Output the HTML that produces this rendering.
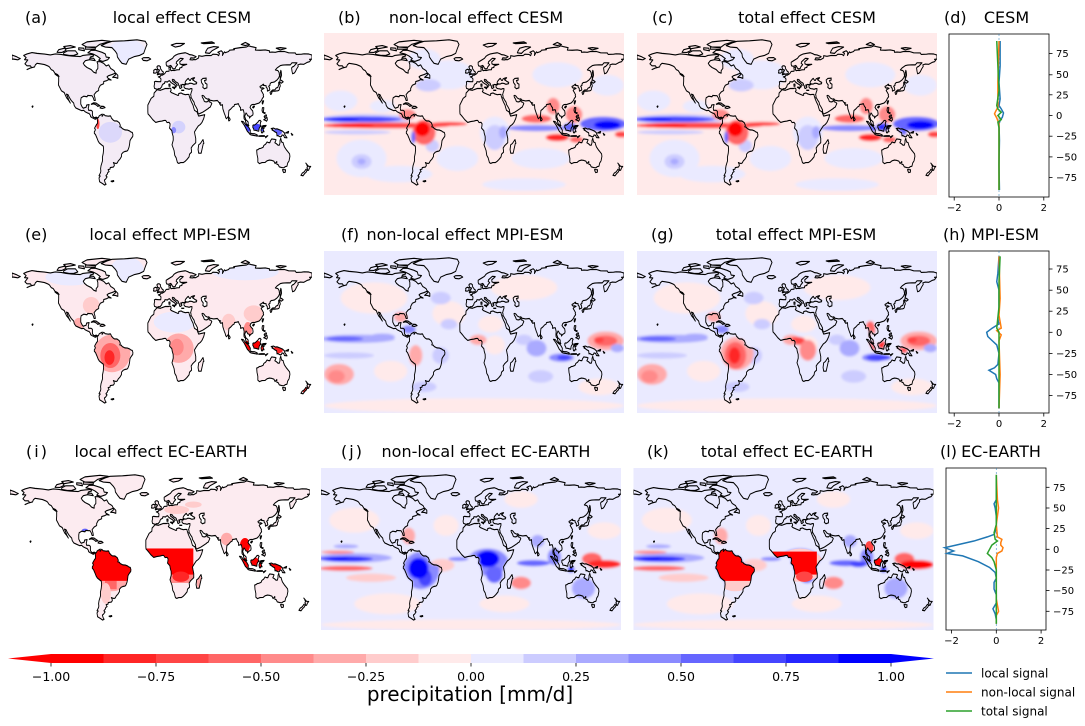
<!DOCTYPE html>
<html><head><meta charset="utf-8"><style>
html,body{margin:0;padding:0;background:#fff;}
svg{display:block;font-family:"DejaVu Sans","Liberation Sans",sans-serif;}
</style></head><body>
<svg width="1085" height="726" viewBox="0 0 1085 726" xmlns="http://www.w3.org/2000/svg">
<defs>
<filter id="bl" filterUnits="userSpaceOnUse" x="-200" y="-100" width="400" height="220"><feGaussianBlur stdDeviation="1.6 1.2"/></filter>
<path id="land" d="M-166,68.5 -163,66.5 -165,64.5 -161,64.2 -164.5,60.5 -162,58.6 -158,58.6 -156.5,57 -162,55 -158,56.5 -153,57.5 -152,59.5 -150,61 -146,60.5 -141,59.8 -137,58.5 -135,57.5 -133,55 -130.5,54 -128.5,51.5 -125,50 -124,48.4 -124,44 -124.3,40.3 -122.5,37.5 -120.6,34.6 -117.3,33 -116,30.5 -114.5,28 -112,25.5 -110,23 -112,26 -113.5,29.5 -114.7,31.5 -112.8,31 -111,28 -109,25.5 -106,23 -105.3,20.5 -103.5,18.3 -100,17 -96.5,15.7 -94,16 -92,14.5 -89,13.3 -87.5,13 -86,11.3 -85.7,10 -84,9 -82,8.3 -80,7.3 -79.6,8.5 -78,8.3 -77.3,8.5 -77.9,7.2 -77.5,6.7 -77.4,4 -77.5,3.3 -78.6,2.6 -79,1.7 -80,0.4 -80.9,-1.1 -80,-2.2 -80.3,-3.4 -81.2,-4.5 -81.2,-6 -79.8,-7.2 -78.1,-10.4 -76.6,-13.5 -75.2,-15.3 -71.4,-17.8 -70.4,-18.3 -70.1,-21.4 -70.5,-25 -71.5,-28.9 -71.4,-32.4 -73.2,-37.1 -73.7,-39.9 -73.4,-42.1 -73.7,-43.4 -75.6,-46.6 -74.1,-46.9 -75.6,-48.7 -74.9,-52.3 -71.5,-54 -69,-55.5 -67.1,-54.8 -68.3,-53.1 -68.6,-52.3 -69.1,-50.7 -67.8,-49.9 -65.9,-47.7 -67.3,-46.6 -65.6,-45 -65.1,-43.5 -63.5,-42.6 -64.7,-40.8 -62.3,-40.2 -62.1,-38.8 -58.4,-38.3 -57.2,-36.9 -57.5,-35.3 -58.4,-34 -57.1,-34.4 -55,-34.9 -53.8,-34.4 -52.3,-32.2 -50.7,-31 -48.6,-28.2 -48.5,-25.9 -46.5,-24.1 -44.6,-23.4 -42,-23 -40.8,-21.9 -39.6,-19.3 -39,-17 -38.4,-13 -37,-11 -35.1,-9 -34.9,-7.3 -35.6,-5.1 -37.2,-4.8 -39,-3.7 -41.5,-2.9 -44.6,-2.7 -48,-1.3 -48.6,-0.2 -50.7,0.2 -50,1.7 -51.3,4.2 -52,4.6 -54,5.8 -57.1,5.9 -58.7,6.8 -60.7,8.6 -61.2,9.8 -61.9,10.7 -64.3,10.4 -66.2,10.6 -68.2,10.9 -69.9,12.2 -71.4,11 -71.9,10.2 -71.8,12.4 -74.2,11.3 -75.5,10.6 -76.3,9 -77,8.7 -79,9.5 -81.5,8.9 -83.5,10.8 -83.5,15 -85,16 -88,16 -88.5,18 -87.5,21.5 -90.5,21 -91,19 -94.5,18 -96,19.5 -97.5,22 -97.5,26 -97,28 -94,29.5 -90,29 -89,30.3 -85.5,30 -84,30 -82.5,28 -81.5,25.5 -80,25.5 -80.5,28 -81.5,31 -79,33.5 -76,35 -76,37 -74,40 -70,41.5 -70,43.5 -66,44.5 -64,45.5 -61,45 -64.5,46.5 -66,48 -64.5,49 -60,50.2 -56,51.5 -57.5,54 -61.5,56 -64,59.5 -67,58.5 -70,61 -74,62.5 -78,62.5 -77,60 -77,56 -79,54 -79,51.5 -82,52.5 -85,55 -90,57 -93,59 -94.5,61 -92,63.5 -87,64.5 -86,67 -82,68 -83,69.5 -90,69 -95,68.5 -98,67.5 -108,68 -115,68.5 -121,69.5 -128,70 -134,69 -141,69.8 -150,70.5 -156,71.3 -162,70 Z
M-59.3,47.6 -56,49.8 -55.5,51.5 -53,49.5 -53,46.6 -56,47.5 Z
M-73,78 -66,80.5 -60,82 -45,82.5 -30,83.5 -20,82 -18,79 -20,75 -22,70.5 -27,68.5 -33,67.5 -40,65 -43,60 -48,61 -51,64 -53.5,67 -54,70 -56,72.5 -60,76 -68,76.5 Z
M-80,73.5 -72,71.5 -68,70 -67,67 -63,66.5 -65,64.5 -71,62.8 -76,64 -74,65.5 -78,68 -83,70 -89,71 -85,73.5 Z
M-118,71 -113,73 -104,73 -101,70 -106,68.5 -112,68.6 -118,69.5 Z
M-90,76.5 -80,76 -75,79 -62,82 -72,83 -90,81.5 -96,79 Z
M-126,71.5 -124,74 -117,75.5 -115,73.5 -120,71.4 Z
M-92,74.5 -80,74.5 -80,76.5 -92,76.5 Z
M-115,75 -104,76.5 -110,78 -118,77 Z
M-100,74 -93,73 -94,75.5 -100,75.8 Z
M-87,64.5 -80,63.5 -82,65.8 -86,66 Z
M-128.4,50.8 -125.5,50.3 -123.5,48.5 -125.5,48.9 Z
M-156,19.8 -155,20.2 -154.8,19.5 -155.6,18.9 Z
M-84.9,21.9 -82,23.2 -79,22.9 -76,21.2 -74.2,20.3 -77.5,19.9 -78,20.7 -80.5,21.8 -82.5,22.2 -84.5,21.7 Z
M-74.4,18.3 -72.7,19.9 -69.9,19.7 -68.3,18.6 -71.7,17.8 Z
M-61.2,-51.8 -58,-51.2 -57.8,-51.9 -59.8,-52.4 Z
M-24,65.5 -22,66.4 -16,66.5 -13.5,65 -18,63.4 -22.5,63.8 Z
M11,78.5 17,80 27,80 22,77.5 16,76.5 Z
M52,71 57,70.5 60,73 68,76.5 62,77 55,75.5 53,73 Z
M95,79 100,81 105,79 100,78 Z
M47,80.5 60,81.5 63,80.3 50,79.8 Z
M137,75.5 142,76 149,75.3 142,73.8 Z
M-180,68.9 -175,67.5 -172,66.2 -170,65.6 -173,64.3 -178,65 -180,65 Z
M-5.9,35.8 -9.5,32.5 -9.8,29.5 -13,27.5 -17,21 -17,14.7 -16.8,12.5 -15,11 -13,9 -11,7 -7.5,4.4 -4,5.2 0,5.7 2.5,6.3 4.5,6.3 6,4.3 8.5,4.5 9.7,3 9.5,1 9,-1 11.8,-3.5 12.3,-6 13.4,-9 13.5,-12.5 12,-17 14.5,-22.5 15.3,-27 17,-29.5 18.5,-34 20,-34.8 22.5,-34 25.5,-34 27.5,-33 30,-31 32.5,-28.5 33,-26 35.5,-24 35.3,-22 35,-20 36.8,-17.8 40.5,-15 40.5,-11 39.5,-7 39,-4.7 41,-2 43.5,1 46,2.5 48,4.5 50,8 51.3,11.8 48,11.2 44,10.5 43.3,11.8 42,14.5 39,16 38,18.5 37.2,21 35.6,23.5 34,26.5 32.6,29.9 32.3,31.2 30,31.2 28,31 25,31.7 23,32.6 20,32 20,30.5 19,30.3 15.5,31.5 11.3,33 10,34 11,35.2 10.5,36.8 9.5,37.3 8,36.9 4,36.9 0,35.8 -2,35.1 Z
M44,-25 47,-25 49.5,-16 50.3,-15.5 49.2,-12 46,-15.8 44,-17 43.3,-21.5 Z
M-5.6,36 -9,37 -9.5,39 -8.8,42 -9.2,43.2 -8,43.7 -4,43.4 -1.5,43.4 -1.2,46 -2.5,47.3 -4.5,48 -1.8,48.7 -1.5,49.6 0.2,49.6 1.5,50.2 3.5,51.3 5,53.2 8.5,53.5 8.6,55.5 8.1,56.8 10.5,57.6 10.4,56.2 10,54.8 11,54 13,54.3 14.5,54 18,54.8 21,54.9 21.2,56.5 24,57.2 24,58.5 28,59.5 29.8,60 23,59.9 21.5,60.5 21.3,62.5 25,65 25.5,65.5 22,65.8 17.5,62.5 17,61 18.8,59.8 16.5,57.5 16,56.2 14.3,55.5 12.7,56.2 11.5,58 10.5,59 8,58.1 5.6,58.5 5,60 5,62 8,63.5 12.5,65.7 14.5,67.8 16.3,68.8 19,69.8 23.5,70.6 28,71.1 31,70.2 33,69.3 36,69 41,67.4 38.5,66 34.5,66.2 33.5,64.5 36.5,64.2 38,64.6 40.5,64.5 44,66.2 44,68.3 48,67.7 53,68.5 59,68.4 61,69.7 66,69.5 68,68.3 69,70.5 67,71.5 71,73 73,71.5 72.5,68.5 75,72 76,71.2 80,72.3 81,73.6 87,74 86,75 94,76 101,76.5 104,77.7 107,77 113,76 112,73.7 118,73.5 124,73.8 129,73 129,71.5 132,71.8 136,71.5 140,72.4 147,72.3 152,71 160,70.9 161,69.5 167.5,69.7 170.5,70.1 176,69.9 180,68.9 180,65 177,64.8 178.5,64 177,62.5 174,61.8 170,60 166,60.3 163,59.5 163.5,58 161.5,55.5 160,53 158.5,51.5 156.7,51 156,53.5 155.5,56.5 156.5,57.5 158,58 162,61.5 160,61.5 156,61.5 154,59.5 150,59.6 145,59.3 142,58.8 138,56.5 136,54.7 139,54.1 140.5,52.2 141,49 140,47 138,45 135,43.2 133,42.8 131,42.6 129.5,41 129.7,40 128,39 129,37.5 129.4,35.5 126.5,34.4 126.3,37 125,38 125,39.5 121.5,40 122,40.8 121.5,41 119,39.3 118,39.2 117.5,38.5 119,37.2 120.7,37.6 122.5,37 120,36 119,35 120.5,33 121.8,31 121.5,30 122,29 120.5,27.5 119.5,25.8 118.5,24.5 116.5,23 113.5,22.2 111,21.5 109.7,21.6 108,21.5 106.5,20.5 106,19.5 105.6,18.8 107,17 108.8,15.5 109.3,13 109,11.5 107,10.5 106.2,10 105,8.6 104.8,10.3 103,10.7 102,12.2 100.9,13.5 100,12 99.2,10 100,8.5 100.5,7 102,6 103.4,4.8 103.5,2.5 104.2,1.4 103.5,1.3 101.3,2.8 100.3,5 100.2,6.5 98.5,8 98.3,10 98.6,13 97.6,16.5 96,16.5 94.3,16 94.3,18.4 93,19.8 92.3,21 91.5,22.5 90.5,22 88.5,21.8 87,21.5 86.5,20 84.8,19.3 82.2,17 80.3,15.8 80,13.5 79.8,10.3 78.3,8.9 77.5,8 76.5,8.9 75.7,11.3 74.8,13 74,15 73,17.5 72.8,19.3 72.6,21.4 70.5,20.8 69,22.4 70.5,23 68.2,23.7 67.2,24.7 66.4,25.4 62,25 57.5,25.7 56.3,27 54.5,26.7 52,27.8 50.5,29.5 49,30.3 48,30 48.5,28.5 50,26.5 50.5,25 51.5,24.3 52.5,24.2 54,24.1 56,25.5 56.3,26.3 56.5,24.3 58.7,23.6 59.8,22.4 57.8,19 56.6,18.6 55.3,17.6 52.2,16 49,14.3 45,12.8 43.5,12.6 42.8,14.5 42.6,16.5 41,19 39.1,21.5 38.5,23.7 37,25.5 35.2,28.1 34.6,28 34.9,29.5 34.3,31.2 34.6,31.6 35,33 35.9,35 36,36.7 34.7,36.8 32.5,36.1 30.5,36.6 29,36.7 27.5,37.1 26.3,38.3 26.6,39.8 26.3,40.2 28,40.4 29.2,41.2 31.2,41.1 33.5,42 36,41.7 38.3,40.9 41.5,41.5 41.7,42.7 40,43.4 38,44.5 36.6,45.3 38.2,46.2 39.2,47.2 37.5,47 35,46.2 34,44.6 33.3,44.6 32.5,45.3 31.5,46.6 30,45.5 29.6,45 28.7,44.2 28,43.3 27.7,42 28.9,41.3 26.1,40.6 24,40.8 23.7,39.9 22.5,40.3 23.2,39 24,38.2 22.8,37.3 21.7,36.8 21,37.8 21.5,39 20.2,39.6 19.5,41.7 18.3,42.5 16,43.5 14.5,45.3 13.7,45.1 13.1,45.7 12.3,45.3 12.5,44.1 13.8,43.3 16,41.9 18.4,40.2 17,39 16.6,38.1 15.9,38 16.2,39.4 15.6,40 14.7,40.6 12.5,41.7 10.5,42.9 8.9,44.4 7.5,43.8 6.5,43.1 4.5,43.4 3.1,43 3.2,41.9 1,41 0,39.8 -0.3,38.5 -1.5,37.5 -2.2,36.7 -4.4,36.7 Z
M-5.7,50 -3,50.6 1.3,51.1 1.7,52.7 0.3,53.4 -0.5,54.5 -1.5,55.5 -2,57 -1.8,57.6 -3.2,58.6 -5,58.6 -6.2,57.5 -5.5,56.3 -5,55 -3.3,54.8 -3,53.8 -4.5,53.2 -4.8,52.1 -3.5,51.5 -5.2,51.7 Z
M-6,52.2 -6.2,53.9 -5.7,54.6 -7.2,55.3 -8.3,55.2 -10,54.2 -9.8,53 -10.3,51.8 -8,51.6 Z
M12.4,38.1 15.6,38.3 15.1,36.6 Z
M8.4,39 8.2,41 9.6,41.1 9.7,39.2 Z
M23.5,35.3 26.3,35.3 26,35 23.6,35.1 Z
M130.9,34 132.5,35.4 135.5,35.6 136.8,37.2 139,38 140,40.5 140.3,41.3 141.5,41 142,39.3 141,37.5 140.8,35.8 140,35 138.8,34.7 137,34.6 135.5,34.3 133.5,34.3 Z
M140,41.5 141.7,42.6 143.3,42 145.5,43.3 144.5,44 141.7,45.4 141.4,43.3 140,42.8 Z
M129.6,33.3 131,33.9 132,33 131,31.3 130.2,31.3 Z
M142,46 143.5,49.5 143,53.5 142.5,54.2 142,51.5 141.8,48 Z
M120.1,23 121,25.2 122,25 120.8,22 Z
M108.6,19 110.5,20.1 111,19.6 109.6,18.2 Z
M120.5,18.5 122.2,18.5 122,16.5 121.5,15.5 122,14 124,13.5 123,13 120.6,14.2 120,16 Z
M122.5,10 124,11.5 125.5,11.5 125,10 123,9.2 Z
M122,7 124,8 126,9.3 126.5,7 125.5,5.6 124,6.5 Z
M95.3,5.5 97.5,5.2 100.5,2.2 103.8,0.1 106,-3 105.8,-5.8 104.5,-5.9 102.3,-4 100.2,-0.6 98.6,1.8 Z
M105.2,-6.8 106.1,-5.9 108.5,-6.4 111,-6.4 112.6,-6.9 114.5,-7.8 114.5,-8.7 112,-8.3 108.3,-7.8 106.4,-7.4 Z
M109,1.6 109.7,2 111,1.9 113,3.1 115.4,5 116.2,6.1 117.7,6.4 119,5.4 118.3,4.5 117.8,2 119,0.9 117.5,0.1 116.5,-1.5 116.1,-4 114.8,-3.7 113,-3.2 111,-3 110.2,-2.9 110,-1.6 109,-0.4 Z
M120.2,0.2 120.9,1.3 125,1.5 124,0.4 121,0.4 120.5,-1 122.8,-0.9 121.2,-1.9 122.5,-4.5 121,-4.5 120.4,-5.6 119.4,-5.4 118.8,-2.8 119.8,0 Z
M131,-1.5 134,-1 136,-1.9 138,-1.7 141,-2.6 144.5,-3.8 147.5,-6 147,-6.7 148,-8 150,-10.3 147,-10.1 146,-8 144,-7.6 143.3,-9 142.6,-9.3 141,-9.1 139,-8.1 138,-8.4 137.6,-5.5 135,-4.4 133.7,-3.5 132,-2.8 133,-2.2 131.8,-1.6 Z
M116,-8.5 119,-8.3 123,-8.3 123,-8.8 119,-8.8 116,-8.9 Z
M124,-9.3 127,-8.3 126,-9 124.5,-10.2 Z
M148.5,-5.5 152,-4.2 151.5,-5.8 Z
M155,-6 157,-7.5 156,-7.8 Z
M113.6,-22 114,-26 115,-30 115,-33.6 117,-35 120,-34 123.6,-33.9 126,-32.3 129,-31.6 132,-32 134.3,-32.7 135.7,-34.9 137.8,-33 137.8,-35.6 139.6,-36.1 140.6,-38 143.6,-38.8 146.3,-39 147.9,-37.9 150,-37.4 150.8,-34.5 152.5,-32.3 153.5,-28 153.1,-25.7 151,-23.5 149.7,-22.3 146.9,-19 145.9,-16.7 145.4,-15 143.5,-14.3 142.5,-10.7 141.6,-12.9 141.6,-15 140.8,-17.4 139.3,-17.4 137.4,-16 135.4,-15 136.9,-12.3 135.9,-11.9 132.6,-11.5 131.8,-11.3 130.3,-13 129.5,-14.9 128,-14.9 126.1,-14.3 124.4,-16.3 122.2,-17.6 121.3,-19.4 118.8,-20.3 116.7,-20.6 114.9,-21.7 Z
M144.7,-40.7 148.3,-40.9 148,-43.2 146,-43.6 145,-42 Z
M172.6,-34.5 174.5,-36.4 175.9,-37.6 178.5,-37.7 177,-39.2 176,-41.3 175,-41.4 174.6,-39.9 173.8,-39.2 174.6,-38 173.5,-35.5 Z
M172.6,-40.5 174.3,-41.3 173,-43.2 171.2,-44.5 169.3,-46.6 166.7,-46.2 168.3,-44.1 170.6,-42.9 172,-41.3 Z
M79.7,8.2 80,9.8 81.8,7.5 81.2,6.2 80,6 Z"/>
<path id="casp" d="M47,45 49,46.5 53,46.8 53,45 51,44.5 52,42 54,41 53.9,37.5 51,36.7 49,38 49.5,40.3 47.5,42.5 Z"/>
<clipPath id="rc"><rect x="-180" y="-65" width="360" height="155"/></clipPath>
<clipPath id="lc"><use href="#land"/></clipPath>

<!-- CESM non-local ocean field -->
<g id="fB">
<rect x="-200" y="-90" width="400" height="200" fill="#ffeaea"/>
<g fill="#eaeaff">
<ellipse cx="-30" cy="50" rx="30" ry="14"/><ellipse cx="-60" cy="65" rx="20" ry="10"/>
<ellipse cx="25" cy="-5" rx="18" ry="15"/><ellipse cx="-135" cy="-30" rx="30" ry="18"/>
<ellipse cx="-160" cy="25" rx="20" ry="10"/><ellipse cx="80" cy="-30" rx="35" ry="10"/>
<ellipse cx="-20" cy="-30" rx="25" ry="12"/><ellipse cx="100" cy="50" rx="30" ry="12"/>
<ellipse cx="160" cy="40" rx="20" ry="10"/><ellipse cx="-90" cy="-45" rx="40" ry="8"/>
<ellipse cx="60" cy="-55" rx="50" ry="6"/><ellipse cx="-110" cy="20" rx="15" ry="6"/>
</g>
<g fill="#ccccff">
<ellipse cx="-135" cy="-33" rx="12" ry="7"/><ellipse cx="-55" cy="40" rx="15" ry="6"/>
<ellipse cx="25" cy="-10" rx="12" ry="12"/><ellipse cx="-50" cy="-18" rx="8" ry="6"/>
<ellipse cx="-130" cy="7.5" rx="55" ry="5"/><ellipse cx="-140" cy="-5" rx="40" ry="2"/>
</g>
<g fill="#aaaaff"><ellipse cx="-135" cy="-33" rx="5" ry="3"/><ellipse cx="35" cy="-5" rx="5" ry="6"/></g>
<ellipse cx="-135" cy="7.5" rx="48" ry="2.7" fill="#4545ff"/>
<ellipse cx="-160" cy="7.5" rx="22" ry="1.6" fill="#0000ff"/>
<ellipse cx="-105" cy="1.5" rx="78" ry="2.8" fill="#ff4545"/>
<ellipse cx="-150" cy="1.5" rx="30" ry="1.8" fill="#ff0000"/>
<ellipse cx="-60" cy="-5" rx="14" ry="12" fill="#ff6666"/>
<ellipse cx="-62" cy="-2" rx="9" ry="7" fill="#ff0000"/>
<ellipse cx="-73" cy="-10" rx="2.5" ry="6" fill="#6666ff"/>
<ellipse cx="-30" cy="3" rx="22" ry="2" fill="#ff4545"/>
<ellipse cx="-80" cy="12" rx="10" ry="5" fill="#ff8a8a"/>
<ellipse cx="75" cy="-1" rx="35" ry="3" fill="#8a8aff"/>
<ellipse cx="75" cy="8" rx="18" ry="4" fill="#ff6666"/>
<ellipse cx="95" cy="20" rx="8" ry="8" fill="#ff8a8a"/>
<ellipse cx="100" cy="-10" rx="14" ry="3.5" fill="#ff2626"/>
<ellipse cx="123" cy="-12" rx="8" ry="3" fill="#ff6666"/>
<ellipse cx="120" cy="12" rx="10" ry="8" fill="#ff8a8a"/>
<ellipse cx="115" cy="0" rx="8" ry="4" fill="#6666ff"/>
<ellipse cx="155" cy="3" rx="28" ry="7" fill="#6666ff"/>
<ellipse cx="160" cy="2" rx="16" ry="4" fill="#0000ff"/>
<ellipse cx="177" cy="-7" rx="8" ry="3" fill="#ff4545"/>
</g>

<!-- MPI non-local field -->
<g id="fF">
<rect x="-200" y="-90" width="400" height="200" fill="#eaeaff"/>
<g fill="#ffeaea">
<ellipse cx="-120" cy="45" rx="40" ry="15"/><ellipse cx="-30" cy="30" rx="20" ry="12"/>
<ellipse cx="60" cy="55" rx="40" ry="12"/><ellipse cx="0" cy="-58" rx="180" ry="7"/>
<ellipse cx="-100" cy="-25" rx="20" ry="10"/><ellipse cx="150" cy="-40" rx="25" ry="8"/>
<ellipse cx="20" cy="20" rx="15" ry="8"/><ellipse cx="25" cy="0" rx="12" ry="9"/>
</g>
<ellipse cx="-162" cy="-28" rx="18" ry="10" fill="#ffaaaa"/>
<ellipse cx="-165" cy="-30" rx="10" ry="6" fill="#ff8a8a"/>
<ellipse cx="5" cy="5" rx="10" ry="5" fill="#ffaaaa"/>
<ellipse cx="-70" cy="-10" rx="8" ry="10" fill="#ffaaaa"/>
<ellipse cx="-88" cy="27" rx="8" ry="5" fill="#ffaaaa"/>
<ellipse cx="158" cy="4" rx="22" ry="9" fill="#ffaaaa"/>
<ellipse cx="158" cy="4" rx="14" ry="5" fill="#ff6666"/>
<ellipse cx="150" cy="5" rx="6" ry="3" fill="#ff4545"/>
<g fill="#ccccff">
<ellipse cx="-150" cy="-10" rx="30" ry="3"/>
<ellipse cx="60" cy="5" rx="10" ry="5"/><ellipse cx="-30" cy="20" rx="10" ry="5"/>
<ellipse cx="-40" cy="-10" rx="10" ry="8"/><ellipse cx="-40" cy="45" rx="12" ry="6"/>
<ellipse cx="80" cy="-30" rx="15" ry="6"/><ellipse cx="-60" cy="-40" rx="15" ry="5"/>
</g>
<ellipse cx="-140" cy="6" rx="45" ry="4" fill="#aaaaff"/>
<ellipse cx="-155" cy="6" rx="22" ry="2.3" fill="#6666ff"/>
<ellipse cx="-110" cy="8" rx="15" ry="3" fill="#aaaaff"/>
<ellipse cx="75" cy="-3" rx="12" ry="8" fill="#aaaaff"/>
<ellipse cx="105" cy="-12" rx="15" ry="4" fill="#8a8aff"/>
<ellipse cx="108" cy="-12" rx="8" ry="2.5" fill="#4545ff"/>
<ellipse cx="-78" cy="15" rx="8" ry="4" fill="#8a8aff"/>
<ellipse cx="172" cy="-3" rx="8" ry="4" fill="#aaaaff"/>
</g>

<!-- EC-EARTH non-local field -->
<g id="fJ">
<rect x="-200" y="-90" width="400" height="200" fill="#eaeaff"/>
<g fill="#ffeaea">
<ellipse cx="-140" cy="40" rx="30" ry="12"/><ellipse cx="-100" cy="-40" rx="40" ry="10"/>
<ellipse cx="-30" cy="35" rx="15" ry="10"/><ellipse cx="40" cy="-40" rx="30" ry="8"/>
<ellipse cx="160" cy="30" rx="20" ry="8"/><ellipse cx="0" cy="-60" rx="180" ry="5"/>
<ellipse cx="60" cy="60" rx="20" ry="8"/>
</g>
<ellipse cx="-35" cy="-3" rx="15" ry="6" fill="#ffcccc"/>
<ellipse cx="-120" cy="-15" rx="30" ry="4" fill="#ffcccc"/>
<ellipse cx="-75" cy="25" rx="8" ry="8" fill="#ffaaaa"/>
<ellipse cx="-140" cy="4" rx="45" ry="4.5" fill="#aaaaff"/>
<ellipse cx="-150" cy="15" rx="15" ry="2" fill="#aaaaff"/>
<ellipse cx="-160" cy="9.5" rx="20" ry="1.5" fill="#ff8a8a"/>
<ellipse cx="-150" cy="3" rx="32" ry="2.5" fill="#2626ff"/>
<ellipse cx="-160" cy="3" rx="12" ry="1.5" fill="#0000ff"/>
<ellipse cx="-150" cy="-6" rx="32" ry="2.5" fill="#ff6666"/>
<ellipse cx="-15" cy="3" rx="12" ry="2" fill="#8a8aff"/>
<ellipse cx="75" cy="-1" rx="20" ry="3" fill="#6666ff"/>
<ellipse cx="100" cy="5" rx="8" ry="8" fill="#8a8aff"/>
<ellipse cx="60" cy="-20" rx="12" ry="6" fill="#ff8a8a"/>
<ellipse cx="80" cy="20" rx="8" ry="6" fill="#aaaaff"/>
<ellipse cx="145" cy="3" rx="12" ry="6" fill="#ff6666"/>
<ellipse cx="160" cy="-2" rx="20" ry="4" fill="#ff2626"/>
<ellipse cx="120" cy="-7" rx="4" ry="3" fill="#2626ff"/>
<ellipse cx="135" cy="-25" rx="14" ry="10" fill="#aaaaff"/>
<g clip-path="url(#lc)">
<ellipse cx="-60" cy="-8" rx="22" ry="18" fill="#8a8aff"/>
<ellipse cx="-55" cy="-15" rx="8" ry="8" fill="#4545ff"/>
<ellipse cx="-63" cy="-6" rx="12" ry="10" fill="#0000ff"/>
<ellipse cx="20" cy="0" rx="25" ry="13" fill="#8a8aff"/>
<ellipse cx="28" cy="-12" rx="10" ry="8" fill="#6666ff"/>
<ellipse cx="20" cy="3" rx="14" ry="8" fill="#0000ff"/>
</g>
</g>

<!-- local blobs -->
<g id="bA">
<ellipse cx="-42" cy="72" rx="22" ry="12" fill="#eaeaff"/>
<ellipse cx="-62" cy="-5" rx="14" ry="10" fill="#ccccff" opacity="0.6"/>
<ellipse cx="20" cy="0" rx="8" ry="6" fill="#ccccff" opacity="0.8"/>
<ellipse cx="14" cy="-3" rx="3" ry="3" fill="#8a8aff"/>
<ellipse cx="102" cy="-1" rx="5" ry="4" fill="#4545ff"/>
<ellipse cx="114" cy="0" rx="5" ry="3" fill="#4545ff"/>
<ellipse cx="121" cy="-2" rx="3" ry="2" fill="#4545ff"/>
<ellipse cx="138" cy="-5" rx="6" ry="3" fill="#6666ff"/>
<ellipse cx="-77" cy="3" rx="2" ry="5" fill="#ff4545"/>
</g>
<g id="bE">
<g fill="#eaeaff">
<ellipse cx="-42" cy="72" rx="20" ry="12"/><ellipse cx="15" cy="22" rx="25" ry="10"/>
<ellipse cx="-110" cy="65" rx="30" ry="8"/><ellipse cx="100" cy="70" rx="40" ry="8"/>
</g>
<ellipse cx="-60" cy="-8" rx="22" ry="18" fill="#ffaaaa"/>
<ellipse cx="-62" cy="-10" rx="12" ry="12" fill="#ff6666"/>
<ellipse cx="-63" cy="-12" rx="6" ry="7" fill="#ff2626"/>
<ellipse cx="20" cy="-3" rx="18" ry="14" fill="#ffaaaa"/>
<ellipse cx="18" cy="-2" rx="8" ry="8" fill="#ff8a8a"/>
<ellipse cx="102" cy="-1" rx="5" ry="5" fill="#ff0000"/>
<ellipse cx="114" cy="0" rx="6" ry="4" fill="#ff0000"/>
<ellipse cx="121" cy="-2" rx="3" ry="3" fill="#ff2626"/>
<ellipse cx="138" cy="-5" rx="7" ry="3" fill="#ff2626"/>
<ellipse cx="103" cy="15" rx="5" ry="7" fill="#ff8a8a"/>
<ellipse cx="172" cy="-42" rx="4" ry="4" fill="#ff2626"/>
<ellipse cx="80" cy="22" rx="8" ry="8" fill="#ffcccc"/>
<ellipse cx="110" cy="30" rx="12" ry="8" fill="#ffcccc"/>
<ellipse cx="-85" cy="38" rx="10" ry="8" fill="#ffcccc"/>
<ellipse cx="-100" cy="20" rx="6" ry="6" fill="#ffaaaa"/>
</g>
<g id="bI">
<ellipse cx="-58" cy="-8" rx="26" ry="20" fill="#ffaaaa"/>
<rect x="-66" y="-26" width="14" height="8" fill="#ff6666"/>
<rect x="-82" y="-18" width="50" height="30" fill="#ff0000"/>
<rect x="-18" y="-20" width="65" height="10" fill="#ff8a8a"/>
<rect x="-18" y="-12" width="58" height="25" fill="#ff0000"/>
<ellipse cx="25" cy="-14" rx="10" ry="5" fill="#ff2626"/>
<ellipse cx="102" cy="-1" rx="6" ry="5" fill="#ff0000"/>
<ellipse cx="114" cy="0" rx="6" ry="4" fill="#ff0000"/>
<ellipse cx="121" cy="-2" rx="3" ry="3" fill="#ff0000"/>
<ellipse cx="138" cy="-5" rx="8" ry="4" fill="#ff0000"/>
<ellipse cx="102" cy="16" rx="6" ry="7" fill="#ff0000"/>
<ellipse cx="80" cy="22" rx="7" ry="6" fill="#ffaaaa"/>
<ellipse cx="20" cy="50" rx="15" ry="4" fill="#ffcccc"/>
<ellipse cx="40" cy="55" rx="10" ry="3" fill="#ffcccc"/>
<ellipse cx="-65" cy="-30" rx="6" ry="10" fill="#ffcccc"/>
<ellipse cx="47" cy="-19" rx="3" ry="6" fill="#ffaaaa"/>
<ellipse cx="-90" cy="30" rx="4" ry="2" fill="#6666ff"/>
</g>
</defs>

<!-- ===== Titles ===== -->
<g font-size="16" fill="#000">
<text x="25" y="23">(a)</text><text x="182" y="23" text-anchor="middle">local effect CESM</text>
<text x="338" y="23">(b)</text><text x="476" y="23" text-anchor="middle">non-local effect CESM</text>
<text x="652" y="23">(c)</text><text x="807" y="23" text-anchor="middle">total effect CESM</text>
<text x="944" y="23">(d)</text><text x="1006.5" y="23" text-anchor="middle">CESM</text>
<text x="25" y="240">(e)</text><text x="170" y="240" text-anchor="middle">local effect MPI-ESM</text>
<text x="341" y="240">(f)</text><text x="465" y="240" text-anchor="middle">non-local effect MPI-ESM</text>
<text x="651" y="240">(g)</text><text x="796" y="240" text-anchor="middle">total effect MPI-ESM</text>
<text x="943" y="240">(h)</text><text x="1005" y="240" text-anchor="middle">MPI-ESM</text>
<text x="26" y="457" textLength="21" lengthAdjust="spacing">(i)</text><text x="161" y="457" text-anchor="middle">local effect EC-EARTH</text>
<text x="341" y="457" textLength="21" lengthAdjust="spacing">(j)</text><text x="486" y="457" text-anchor="middle">non-local effect EC-EARTH</text>
<text x="647" y="457">(k)</text><text x="787" y="457" text-anchor="middle">total effect EC-EARTH</text>
<text x="940" y="457">(l)</text><text x="1001" y="457" text-anchor="middle">EC-EARTH</text>
</g>

<!-- ===== Maps ===== -->
<!-- (a) -->
<g transform="matrix(0.8333 0 0 -1.045 162 127.05)"><g clip-path="url(#rc)">
<use href="#land" fill="#f4ebf5"/>
<g clip-path="url(#lc)"><use href="#bA"/></g>
<use href="#casp" fill="#fff" stroke="#000" stroke-width="1.1"/>
<use href="#land" fill="none" stroke="#000" stroke-width="1.1" stroke-linejoin="round"/>
</g></g>
<!-- (b) -->
<g transform="matrix(0.8333 0 0 -1.045 474 127.05)"><g clip-path="url(#rc)">
<g filter="url(#bl)"><use href="#fB"/></g>
<use href="#casp" fill="none" stroke="#000" stroke-width="1.1"/>
<use href="#land" fill="none" stroke="#000" stroke-width="1.1" stroke-linejoin="round"/>
</g></g>
<!-- (c) -->
<g transform="matrix(0.8333 0 0 -1.045 787 127.05)"><g clip-path="url(#rc)">
<g filter="url(#bl)"><use href="#fB"/>
<g clip-path="url(#lc)">
<ellipse cx="102" cy="-1" rx="5" ry="4" fill="#4545ff"/>
<ellipse cx="114" cy="0" rx="5" ry="3" fill="#2626ff"/>
<ellipse cx="138" cy="-5" rx="6" ry="3" fill="#6666ff"/>
</g></g>
<use href="#casp" fill="none" stroke="#000" stroke-width="1.1"/>
<use href="#land" fill="none" stroke="#000" stroke-width="1.1" stroke-linejoin="round"/>
</g></g>
<!-- (e) -->
<g transform="matrix(0.8333 0 0 -1.045 162 345.05)"><g clip-path="url(#rc)">
<use href="#land" fill="#fde9ee"/>
<g clip-path="url(#lc)"><use href="#bE"/></g>
<use href="#casp" fill="#fff" stroke="#000" stroke-width="1.1"/>
<use href="#land" fill="none" stroke="#000" stroke-width="1.1" stroke-linejoin="round"/>
</g></g>
<!-- (f) -->
<g transform="matrix(0.8333 0 0 -1.045 474 345.05)"><g clip-path="url(#rc)">
<g filter="url(#bl)"><use href="#fF"/></g>
<use href="#casp" fill="none" stroke="#000" stroke-width="1.1"/>
<use href="#land" fill="none" stroke="#000" stroke-width="1.1" stroke-linejoin="round"/>
</g></g>
<!-- (g) -->
<g transform="matrix(0.8333 0 0 -1.045 787 345.05)"><g clip-path="url(#rc)">
<g filter="url(#bl)"><use href="#fF"/>
<g clip-path="url(#lc)">
<ellipse cx="-60" cy="-8" rx="20" ry="16" fill="#ffaaaa"/>
<ellipse cx="-62" cy="-10" rx="13" ry="13" fill="#ff6666"/>
<ellipse cx="-63" cy="-10" rx="7" ry="8" fill="#ff2626"/>
<ellipse cx="12" cy="4" rx="10" ry="4" fill="#ff4545"/>
<ellipse cx="25" cy="-5" rx="10" ry="10" fill="#ff8a8a"/>
<ellipse cx="102" cy="-1" rx="5" ry="5" fill="#ff2626"/>
<ellipse cx="114" cy="0" rx="6" ry="4" fill="#ff2626"/>
<ellipse cx="138" cy="-5" rx="7" ry="3" fill="#ff4545"/>
<ellipse cx="100" cy="15" rx="6" ry="8" fill="#ff6666"/>
</g>
<ellipse cx="110" cy="-12" rx="15" ry="3" fill="#4545ff"/>
</g>
<use href="#casp" fill="none" stroke="#000" stroke-width="1.1"/>
<use href="#land" fill="none" stroke="#000" stroke-width="1.1" stroke-linejoin="round"/>
</g></g>
<!-- (i) -->
<g transform="matrix(0.8333 0 0 -1.045 160 562.05)"><g clip-path="url(#rc)">
<use href="#land" fill="#fcebf0"/>
<g clip-path="url(#lc)"><use href="#bI"/></g>
<use href="#casp" fill="#fff" stroke="#000" stroke-width="1.1"/>
<use href="#land" fill="none" stroke="#000" stroke-width="1.1" stroke-linejoin="round"/>
</g></g>
<!-- (j) -->
<g transform="matrix(0.8333 0 0 -1.045 471 562.05)"><g clip-path="url(#rc)">
<g filter="url(#bl)"><use href="#fJ"/></g>
<use href="#casp" fill="none" stroke="#000" stroke-width="1.1"/>
<use href="#land" fill="none" stroke="#000" stroke-width="1.1" stroke-linejoin="round"/>
</g></g>
<!-- (k) -->
<g transform="matrix(0.8333 0 0 -1.045 783.5 562.05)"><g clip-path="url(#rc)">
<g filter="url(#bl)"><use href="#fJ"/>
<ellipse cx="160" cy="-3" rx="20" ry="4" fill="#ff0000"/>
<ellipse cx="90" cy="-2" rx="10" ry="3" fill="#4545ff"/>
</g>
<g clip-path="url(#lc)">
<ellipse cx="-58" cy="-8" rx="26" ry="20" fill="#ffcccc"/>
<ellipse cx="20" cy="-3" rx="28" ry="16" fill="#ffcccc"/>
<rect x="-82" y="-18" width="50" height="30" fill="#ff0000"/>
<rect x="-18" y="-12" width="58" height="22" fill="#ff0000"/>
<ellipse cx="25" cy="-14" rx="10" ry="5" fill="#ff4545"/>
<ellipse cx="112" cy="0" rx="8" ry="4" fill="#ff0000"/>
<ellipse cx="103" cy="14" rx="5" ry="6" fill="#ff4545"/>
</g>
<use href="#casp" fill="none" stroke="#000" stroke-width="1.1"/>
<use href="#land" fill="none" stroke="#000" stroke-width="1.1" stroke-linejoin="round"/>
</g></g>

<!-- ===== Line panels ===== -->
<g font-size="10" fill="#000">
<!-- (d) -->
<rect x="949" y="34" width="100" height="163" fill="none" stroke="#000" stroke-width="0.8"/>
<line x1="999" y1="34" x2="999" y2="197" stroke="#1f77b4" stroke-width="0.7" stroke-dasharray="2,2" opacity="0.7"/>
<g transform="matrix(22.4 0 0 -0.828 999 115.5)" fill="none" stroke-width="1.5">
<polyline vector-effect="non-scaling-stroke" stroke="#1f77b4" points="0.05,90 0.05,60 0,40 0.05,20 0,12 0.1,8 0.2,3 0.15,-2 0.05,-6 0,-10 0.02,-30 0,-60 0.02,-90"/>
<polyline vector-effect="non-scaling-stroke" stroke="#ff7f0e" points="0,90 -0.05,40 -0.05,10 -0.15,5 -0.2,2 -0.1,-3 0,-10 0,-90"/>
<polyline vector-effect="non-scaling-stroke" stroke="#2ca02c" points="-0.1,90 -0.05,60 0,30 -0.1,12 -0.05,8 0.1,4 -0.05,0 0.1,-5 -0.05,-8 0,-15 0,-90"/>
</g>
<g stroke="#000" stroke-width="0.8">
<line x1="954.2" y1="197" x2="954.2" y2="200.5"/><line x1="999" y1="197" x2="999" y2="200.5"/><line x1="1043.8" y1="197" x2="1043.8" y2="200.5"/>
<line x1="1049" y1="53.4" x2="1052.5" y2="53.4"/><line x1="1049" y1="74.8" x2="1052.5" y2="74.8"/><line x1="1049" y1="94.8" x2="1052.5" y2="94.8"/><line x1="1049" y1="115.5" x2="1052.5" y2="115.5"/><line x1="1049" y1="136.2" x2="1052.5" y2="136.2"/><line x1="1049" y1="156.9" x2="1052.5" y2="156.9"/><line x1="1049" y1="177.6" x2="1052.5" y2="177.6"/>
</g>
<text x="954.2" y="211" text-anchor="middle">−2</text><text x="999" y="211" text-anchor="middle">0</text><text x="1043.8" y="211" text-anchor="middle">2</text>
<text x="1056" y="57">75</text><text x="1056" y="78">50</text><text x="1056" y="98.3">25</text><text x="1056" y="119">0</text><text x="1056" y="139.7">−25</text><text x="1056" y="160.4">−50</text><text x="1056" y="181.1">−75</text>

<!-- (h) -->
<rect x="949" y="251" width="100" height="162" fill="none" stroke="#000" stroke-width="0.8"/>
<line x1="999" y1="251" x2="999" y2="413" stroke="#1f77b4" stroke-width="0.7" stroke-dasharray="2,2" opacity="0.7"/>
<g transform="matrix(22.4 0 0 -0.844 999 332.3)" fill="none" stroke-width="1.5">
<polyline vector-effect="non-scaling-stroke" stroke="#1f77b4" points="0,90 -0.05,70 -0.1,60 0,50 0,25 -0.05,15 0,10 -0.3,5 -0.55,0 -0.5,-5 -0.3,-10 -0.1,-15 0,-25 -0.05,-38 -0.2,-42 -0.45,-45 -0.15,-50 -0.1,-55 0,-60 0,-90"/>
<polyline vector-effect="non-scaling-stroke" stroke="#ff7f0e" points="0,90 0.05,40 0,20 0.1,5 -0.1,2 0.1,-3 0,-10 0.05,-50 0,-90"/>
<polyline vector-effect="non-scaling-stroke" stroke="#2ca02c" points="0.05,90 0,60 0,30 -0.1,5 0,0 0,-90"/>
</g>
<g stroke="#000" stroke-width="0.8">
<line x1="954.2" y1="413" x2="954.2" y2="416.5"/><line x1="999" y1="413" x2="999" y2="416.5"/><line x1="1043.8" y1="413" x2="1043.8" y2="416.5"/>
<line x1="1049" y1="269" x2="1052.5" y2="269"/><line x1="1049" y1="290.2" x2="1052.5" y2="290.2"/><line x1="1049" y1="311.2" x2="1052.5" y2="311.2"/><line x1="1049" y1="332.3" x2="1052.5" y2="332.3"/><line x1="1049" y1="353.4" x2="1052.5" y2="353.4"/><line x1="1049" y1="374.5" x2="1052.5" y2="374.5"/><line x1="1049" y1="395.6" x2="1052.5" y2="395.6"/>
</g>
<text x="954.2" y="427" text-anchor="middle">−2</text><text x="999" y="427" text-anchor="middle">0</text><text x="1043.8" y="427" text-anchor="middle">2</text>
<text x="1056" y="272.5">75</text><text x="1056" y="293.7">50</text><text x="1056" y="314.7">25</text><text x="1056" y="335.8">0</text><text x="1056" y="356.9">−25</text><text x="1056" y="378">−50</text><text x="1056" y="399.1">−75</text>

<!-- (l) -->
<rect x="946" y="468" width="100" height="162" fill="none" stroke="#000" stroke-width="0.8"/>
<line x1="996.3" y1="468" x2="996.3" y2="630" stroke="#1f77b4" stroke-width="0.7" stroke-dasharray="2,2" opacity="0.7"/>
<g transform="matrix(22.4 0 0 -0.827 996.3 549.3)" fill="none" stroke-width="1.5">
<polyline vector-effect="non-scaling-stroke" stroke="#1f77b4" points="0,90 0,60 -0.1,55 -0.05,50 0,40 0,25 -0.1,18 -0.4,15 -1.0,10 -1.8,5 -2.3,2 -1.9,-2 -2.2,-5 -1.5,-8 -0.8,-15 -0.3,-22 -0.05,-28 0,-35 -0.1,-40 -0.1,-48 0,-55 0,-65 -0.15,-72 -0.05,-78 0,-85 0,-90"/>
<polyline vector-effect="non-scaling-stroke" stroke="#ff7f0e" points="0,90 0.05,60 0.1,50 0,30 0.05,15 0.25,12 0.2,8 0.2,5 0.3,2 0.25,-2 0.05,-5 0,-10 0,-60 0.1,-75 0,-80 0,-90"/>
<polyline vector-effect="non-scaling-stroke" stroke="#2ca02c" points="0,90 0,30 -0.1,20 -0.05,12 0.05,10 -0.2,5 -0.3,0 -0.4,-5 -0.2,-10 -0.1,-15 0,-25 0,-90"/>
</g>
<g stroke="#000" stroke-width="0.8">
<line x1="951.5" y1="630" x2="951.5" y2="633.5"/><line x1="996.3" y1="630" x2="996.3" y2="633.5"/><line x1="1041.1" y1="630" x2="1041.1" y2="633.5"/>
<line x1="1046" y1="487.3" x2="1049.5" y2="487.3"/><line x1="1046" y1="508" x2="1049.5" y2="508"/><line x1="1046" y1="528.6" x2="1049.5" y2="528.6"/><line x1="1046" y1="549.3" x2="1049.5" y2="549.3"/><line x1="1046" y1="570" x2="1049.5" y2="570"/><line x1="1046" y1="590.6" x2="1049.5" y2="590.6"/><line x1="1046" y1="611.3" x2="1049.5" y2="611.3"/>
</g>
<text x="951.5" y="644" text-anchor="middle">−2</text><text x="996.3" y="644" text-anchor="middle">0</text><text x="1041.1" y="644" text-anchor="middle">2</text>
<text x="1053" y="490.8">75</text><text x="1053" y="511.5">50</text><text x="1053" y="532.1">25</text><text x="1053" y="552.8">0</text><text x="1053" y="573.5">−25</text><text x="1053" y="594.1">−50</text><text x="1053" y="614.8">−75</text>
</g>

<!-- ===== Colorbar ===== -->
<polygon points="8,658.5 51,654 51,663" fill="#ff0000"/>
<rect x="51" y="654" width="52.6" height="9" fill="#ff0000"/>
<rect x="103.5" y="654" width="52.6" height="9" fill="#ff2626"/>
<rect x="156" y="654" width="52.6" height="9" fill="#ff4545"/>
<rect x="208.5" y="654" width="52.6" height="9" fill="#ff6666"/>
<rect x="261" y="654" width="52.6" height="9" fill="#ff8a8a"/>
<rect x="313.5" y="654" width="52.6" height="9" fill="#ffaaaa"/>
<rect x="366" y="654" width="52.6" height="9" fill="#ffcccc"/>
<rect x="418.5" y="654" width="52.6" height="9" fill="#ffeaea"/>
<rect x="471" y="654" width="52.6" height="9" fill="#eaeaff"/>
<rect x="523.5" y="654" width="52.6" height="9" fill="#ccccff"/>
<rect x="576" y="654" width="52.6" height="9" fill="#aaaaff"/>
<rect x="628.5" y="654" width="52.6" height="9" fill="#8a8aff"/>
<rect x="681" y="654" width="52.6" height="9" fill="#6666ff"/>
<rect x="733.5" y="654" width="52.6" height="9" fill="#4545ff"/>
<rect x="786" y="654" width="52.6" height="9" fill="#2626ff"/>
<rect x="838.5" y="654" width="52.5" height="9" fill="#0000ff"/>
<polygon points="934,658.5 891,654 891,663" fill="#0000ff"/>
<g stroke="#000" stroke-width="0.8">
<line x1="51" y1="663" x2="51" y2="666.5"/><line x1="156" y1="663" x2="156" y2="666.5"/><line x1="261" y1="663" x2="261" y2="666.5"/><line x1="366" y1="663" x2="366" y2="666.5"/><line x1="471" y1="663" x2="471" y2="666.5"/><line x1="576" y1="663" x2="576" y2="666.5"/><line x1="681" y1="663" x2="681" y2="666.5"/><line x1="786" y1="663" x2="786" y2="666.5"/><line x1="891" y1="663" x2="891" y2="666.5"/>
</g>
<g font-size="12.5" fill="#000" text-anchor="middle">
<text x="51" y="681">−1.00</text><text x="156" y="681">−0.75</text><text x="261" y="681">−0.50</text><text x="366" y="681">−0.25</text><text x="471" y="681">0.00</text><text x="576" y="681">0.25</text><text x="681" y="681">0.50</text><text x="786" y="681">0.75</text><text x="891" y="681">1.00</text>
</g>
<text x="470" y="701" font-size="20" text-anchor="middle" fill="#000">precipitation [mm/d]</text>

<!-- ===== Legend ===== -->
<g stroke-width="1.5">
<line x1="946" y1="673" x2="972" y2="673" stroke="#1f77b4"/>
<line x1="946" y1="692" x2="972" y2="692" stroke="#ff7f0e"/>
<line x1="946" y1="711" x2="972" y2="711" stroke="#2ca02c"/>
</g>
<g font-size="12" fill="#000">
<text x="981" y="677.5">local signal</text>
<text x="981" y="696.5">non-local signal</text>
<text x="981" y="715.5">total signal</text>
</g>
</svg>
</body></html>
